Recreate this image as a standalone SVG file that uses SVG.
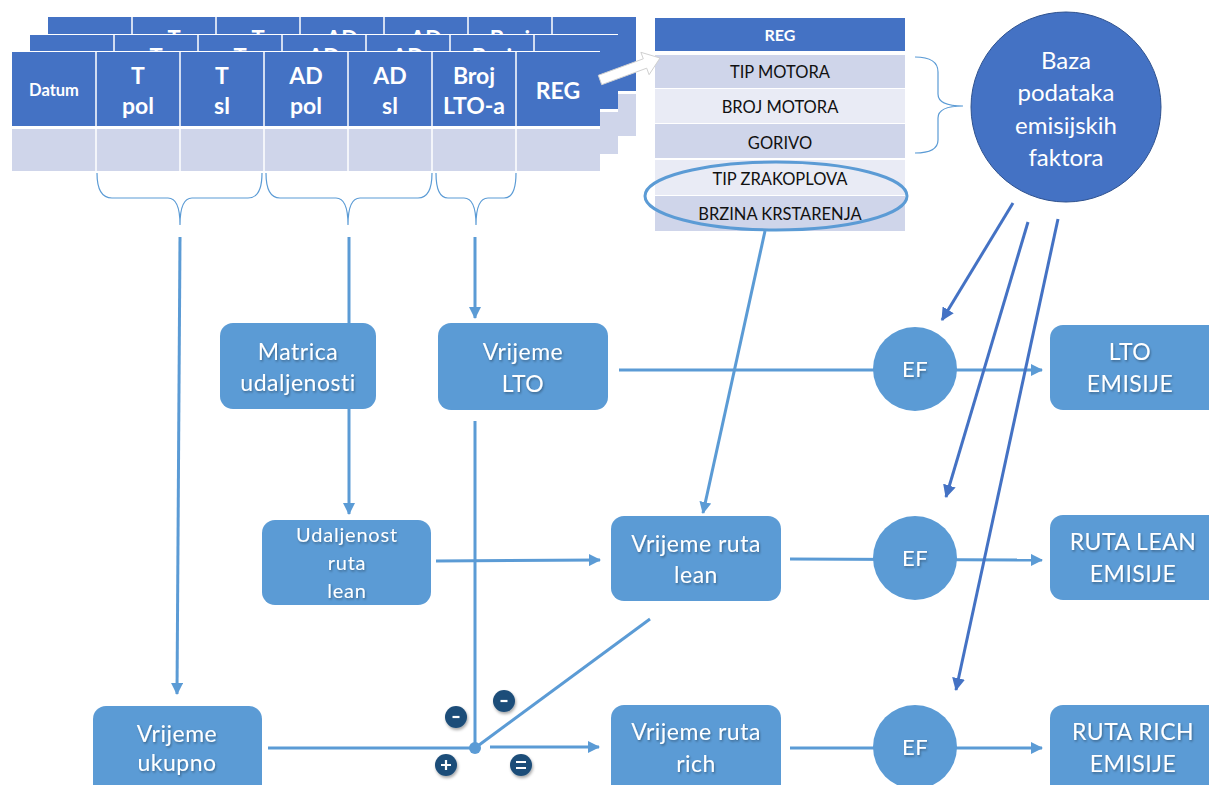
<svg xmlns="http://www.w3.org/2000/svg" width="1209" height="785" viewBox="0 0 1209 785">
<defs>
<style>
.hdr{fill:#4472C4}
.dat{fill:#CFD5EA}
.sep{stroke:#FFFFFF;stroke-width:1.5}
.th{font-family:Lato,"Liberation Sans",sans-serif;font-weight:bold;fill:#FFFFFF;text-anchor:middle}
.rt{font-family:Lato,"Liberation Sans",sans-serif;font-size:16.5px;fill:#111111;text-anchor:middle}
.node{fill:#5B9BD5}
.nt{font-family:Lato,"Liberation Sans",sans-serif;font-size:23px;letter-spacing:0.5px;fill:#FFFFFF;text-anchor:middle;filter:url(#ts)}
.ln{stroke:#5B9BD5;stroke-width:3;fill:none}
.dk{stroke:#4472C4;stroke-width:3;fill:none}
.br{stroke:#5B9BD5;stroke-width:1.2;fill:none}
.sg{fill:#1F4E79;filter:url(#ds)}
.sgt{stroke:#FFFFFF;stroke-width:2.2;fill:none}
</style>
<clipPath id="cpMid"><rect x="0" y="0" width="640" height="52"/></clipPath>
<clipPath id="cpBack"><rect x="0" y="0" width="640" height="35"/></clipPath>
<filter id="ts" x="-20%" y="-30%" width="140%" height="160%">
<feDropShadow dx="1" dy="1.5" stdDeviation="0.8" flood-color="#000000" flood-opacity="0.35"/>
</filter>
<filter id="ds" x="-40%" y="-40%" width="180%" height="180%">
<feDropShadow dx="1" dy="2" stdDeviation="1.5" flood-color="#000000" flood-opacity="0.35"/>
</filter>
<marker id="al" viewBox="0 0 12 12" refX="11" refY="6" markerWidth="12" markerHeight="12" markerUnits="userSpaceOnUse" orient="auto">
<path d="M0,0 L12,6 L0,12 z" fill="#5B9BD5"/>
</marker>
<marker id="ad" viewBox="0 0 12 12" refX="11" refY="6" markerWidth="13" markerHeight="13" markerUnits="userSpaceOnUse" orient="auto">
<path d="M0,0 L12,6 L0,12 z" fill="#4472C4"/>
</marker>
</defs>
<rect width="1209" height="785" fill="#FFFFFF"/>

<!-- back tables -->
<g id="table-back">
<g transform="translate(36,-35)">
<rect x="12" y="51" width="588" height="121" fill="#FFFFFF"/>
<rect class="hdr" x="12" y="52" width="588" height="74"/>
<rect class="dat" x="12" y="129" width="588" height="42"/>
<path class="sep" d="M96,52V171M180,52V171M264,52V171M348,52V171M432,52V171M516,52V171"/>
</g>
<g clip-path="url(#cpBack)">
<text class="th" font-size="22" x="174" y="47">T</text>
<text class="th" font-size="22" x="258" y="47">T</text>
<text class="th" font-size="22" x="342" y="47">AD</text>
<text class="th" font-size="22" x="426" y="47">AD</text>
<text class="th" font-size="22" x="510" y="47">Broj</text>
</g>
</g>
<g id="table-middle">
<g transform="translate(18,-17)">
<rect x="12" y="51" width="588" height="121" fill="#FFFFFF"/>
<rect class="hdr" x="12" y="52" width="588" height="74"/>
<rect class="dat" x="12" y="129" width="588" height="42"/>
<path class="sep" d="M96,52V171M180,52V171M264,52V171M348,52V171M432,52V171M516,52V171"/>
</g>
<g clip-path="url(#cpMid)">
<text class="th" font-size="22" x="156" y="65">T</text>
<text class="th" font-size="22" x="240" y="65">T</text>
<text class="th" font-size="22" x="324" y="65">AD</text>
<text class="th" font-size="22" x="408" y="65">AD</text>
<text class="th" font-size="22" x="492" y="65">Broj</text>
</g>
</g>
<g id="table-front">
<rect x="12" y="51" width="588" height="121" fill="#FFFFFF"/>
<rect class="hdr" x="12" y="52" width="588" height="74"/>
<rect class="dat" x="12" y="129" width="588" height="42"/>
<path class="sep" d="M96,52V171M180,52V171M264,52V171M348,52V171M432,52V171M516,52V171"/>
<text class="th" font-size="16.5" x="54" y="96">Datum</text>
<text class="th" font-size="23" x="138" y="84">T</text>
<text class="th" font-size="23" x="138" y="114">pol</text>
<text class="th" font-size="23" x="222" y="84">T</text>
<text class="th" font-size="23" x="222" y="114">sl</text>
<text class="th" font-size="23" x="306" y="84">AD</text>
<text class="th" font-size="23" x="306" y="114">pol</text>
<text class="th" font-size="23" x="390" y="84">AD</text>
<text class="th" font-size="23" x="390" y="114">sl</text>
<text class="th" font-size="23" x="474" y="84">Broj</text>
<text class="th" font-size="23" x="474" y="114">LTO-a</text>
<text class="th" font-size="23" x="558" y="99">REG</text>
</g>

<!-- REG table -->
<g id="reg-table">
<rect class="hdr" x="655" y="18" width="250" height="33"/>
<rect fill="#CFD5EA" x="655" y="55" width="250" height="33"/>
<rect fill="#E9EBF5" x="655" y="89" width="250" height="34"/>
<rect fill="#CFD5EA" x="655" y="124" width="250" height="34"/>
<rect fill="#E9EBF5" x="655" y="160" width="250" height="35"/>
<rect fill="#CFD5EA" x="655" y="196" width="250" height="35"/>
<text class="th" font-size="16" x="780" y="41">REG</text>
<text class="rt" x="780" y="78">TIP MOTORA</text>
<text class="rt" x="780" y="113">BROJ MOTORA</text>
<text class="rt" x="780" y="149">GORIVO</text>
<text class="rt" x="780" y="185">TIP ZRAKOPLOVA</text>
<text class="rt" x="780" y="220">BRZINA KRSTARENJA</text>
<ellipse cx="776" cy="196" rx="131" ry="34" fill="none" stroke="#5B9BD5" stroke-width="3"/>
</g>

<!-- white block arrow -->
<g id="reg-arrow">
<polygon points="598.3,75.3 643.3,58.8 640.9,52.3 660,58 649.1,74.7 646.7,68.2 601.7,84.7" fill="#FFFFFF" stroke="#D0D0D0" stroke-width="1"/>
</g>

<!-- braces -->
<g id="braces">
<path class="br" d="M97,173 Q97,198 112,198 L168,198 Q180,198 180,225 Q180,198 192,198 L248,198 Q262,198 262,173"/>
<path class="br" d="M266,173 Q266,198 280,198 L336,198 Q348,198 348,225 Q348,198 360,198 L418,198 Q432,198 432,173"/>
<path class="br" d="M436,173 Q436,198 448,198 L464,198 Q476,198 476,225 Q476,198 488,198 L504,198 Q516,198 516,173"/>
<path class="br" d="M915,57 Q938,57 938,72 L938,94 Q938,106 963,106 Q938,106 938,118 L938,140 Q938,153 915,153"/>
</g>

<!-- connectors -->
<g id="connectors">
<line class="ln" x1="180" y1="237" x2="177" y2="694" marker-end="url(#al)"/>
<line class="ln" x1="349" y1="237" x2="349" y2="324"/>
<line class="ln" x1="475" y1="237" x2="475" y2="318" marker-end="url(#al)"/>
<line class="ln" x1="349" y1="408" x2="349" y2="514" marker-end="url(#al)"/>
<line class="ln" x1="619" y1="370" x2="1042" y2="370" marker-end="url(#al)"/>
<line class="ln" x1="765" y1="231" x2="703" y2="513" marker-end="url(#al)"/>
<line class="ln" x1="436" y1="561" x2="600" y2="560" marker-end="url(#al)"/>
<line class="ln" x1="790" y1="559" x2="1042" y2="560" marker-end="url(#al)"/>
<line class="ln" x1="475" y1="421" x2="475" y2="748"/>
<line class="ln" x1="268" y1="748" x2="475" y2="748"/>
<line class="ln" x1="650" y1="619" x2="475" y2="748"/>
<line class="ln" x1="490" y1="747" x2="599" y2="747" marker-end="url(#al)"/>
<line class="ln" x1="790" y1="748" x2="1042" y2="748" marker-end="url(#al)"/>
<circle cx="475" cy="748" r="6" fill="#5B9BD5"/>
<line class="dk" x1="1013" y1="203" x2="942" y2="320" marker-end="url(#ad)"/>
<line class="dk" x1="1028" y1="222" x2="946" y2="497" marker-end="url(#ad)"/>
<line class="dk" x1="1058" y1="219" x2="956" y2="690" marker-end="url(#ad)"/>
</g>

<!-- emission factor database -->
<g id="baza">
<circle cx="1066" cy="107" r="95" fill="#4472C4" stroke="#2F528F" stroke-width="1"/>
<text class="th" font-size="24" x="1066" y="69" style="font-weight:normal">Baza</text>
<text class="th" font-size="24" x="1066" y="101" style="font-weight:normal">podataka</text>
<text class="th" font-size="24" x="1066" y="134" style="font-weight:normal">emisijskih</text>
<text class="th" font-size="24" x="1066" y="166" style="font-weight:normal">faktora</text>
</g>

<g id="matrica">
<rect class="node" x="220" y="323" width="156" height="86" rx="13"/>
<text class="nt" x="298" y="360">Matrica</text>
<text class="nt" x="298" y="391">udaljenosti</text>
</g>
<g id="vrijeme-lto">
<rect class="node" x="438" y="323" width="170" height="87" rx="13"/>
<text class="nt" x="523" y="360">Vrijeme</text>
<text class="nt" x="523" y="392">LTO</text>
</g>
<g id="udaljenost">
<rect class="node" x="262" y="520" width="169" height="85" rx="13"/>
<text class="nt" style="font-size:20px;letter-spacing:0.8px" x="347" y="542">Udaljenost</text>
<text class="nt" style="font-size:20px;letter-spacing:0.8px" x="347" y="570">ruta</text>
<text class="nt" style="font-size:20px;letter-spacing:0.8px" x="347" y="598">lean</text>
</g>
<g id="vrijeme-lean">
<rect class="node" x="611" y="516" width="170" height="85" rx="13"/>
<text class="nt" x="696" y="552">Vrijeme ruta</text>
<text class="nt" x="696" y="583">lean</text>
</g>
<g id="vrijeme-rich">
<rect class="node" x="611" y="705" width="170" height="100" rx="13"/>
<text class="nt" x="696" y="740">Vrijeme ruta</text>
<text class="nt" x="696" y="772">rich</text>
</g>
<g id="vrijeme-ukupno">
<rect class="node" x="93" y="706" width="169" height="100" rx="13"/>
<text class="nt" x="177" y="742">Vrijeme</text>
<text class="nt" x="177" y="771">ukupno</text>
</g>
<g id="ef-lto">
<circle class="node" cx="915" cy="369" r="42"/>
<text class="nt" style="font-size:22px" x="915" y="377">EF</text>
</g>
<g id="ef-lean">
<circle class="node" cx="915" cy="558" r="42"/>
<text class="nt" style="font-size:22px" x="915" y="566">EF</text>
</g>
<g id="ef-rich">
<circle class="node" cx="915" cy="747" r="42"/>
<text class="nt" style="font-size:22px" x="915" y="755">EF</text>
</g>
<g id="lto-emisije">
<rect class="node" x="1050" y="325" width="175" height="85" rx="13"/>
<text class="nt" x="1130" y="360">LTO</text>
<text class="nt" x="1130" y="392">EMISIJE</text>
</g>
<g id="lean-emisije">
<rect class="node" x="1050" y="515" width="175" height="85" rx="13"/>
<text class="nt" x="1133" y="550">RUTA LEAN</text>
<text class="nt" x="1133" y="582">EMISIJE</text>
</g>
<g id="rich-emisije">
<rect class="node" x="1050" y="705" width="175" height="100" rx="13"/>
<text class="nt" x="1133" y="740">RUTA RICH</text>
<text class="nt" x="1133" y="772">EMISIJE</text>
</g>

<!-- signs -->
<g id="signs">
<circle class="sg" cx="456" cy="717" r="11"/>
<path class="sgt" d="M452.5,717H459.5"/>
<circle class="sg" cx="504" cy="701" r="11"/>
<path class="sgt" d="M500.5,701H507.5"/>
<circle class="sg" cx="446" cy="765" r="11"/>
<path class="sgt" d="M441,765H451M446,760V770"/>
<circle class="sg" cx="521" cy="765" r="11"/>
<path class="sgt" d="M516,762H526M516,768H526"/>
</g>
</svg>
